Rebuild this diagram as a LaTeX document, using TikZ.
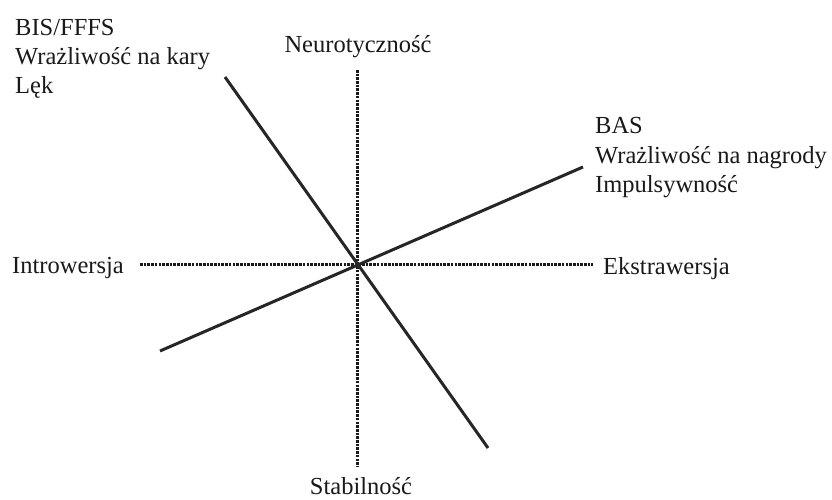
\documentclass[tikz,border=0pt]{standalone}
\usepackage{fontspec}
\setmainfont{Liberation Serif}
\begin{document}
\begin{tikzpicture}[x=1pt,y=1pt,
  lbl/.style={inner sep=0pt,font=\fontsize{24.5}{29}\selectfont,text=black!90},
  axis/.style={line width=3pt,dash pattern=on 2.6pt off 1.1pt,black!90},
  trait/.style={line width=3pt,black!85}]
\useasboundingbox[fill=white] (0,0) rectangle (832,499);
% axis endpoints
\coordinate (nTop) at (357,429);
\coordinate (nBot) at (357,32);
\coordinate (iL) at (140,235);
\coordinate (eR) at (593,235);
\coordinate (bisA) at (225,422);
\coordinate (bisB) at (488,51);
\coordinate (basA) at (160,148);
\coordinate (basB) at (583,332);
\draw[axis] (nTop) -- (nBot);
\draw[axis] (iL) -- (eR);
\draw[trait] (bisA) -- (bisB);
\draw[trait] (basA) -- (basB);
% labels
\node[lbl,anchor=base west] (bis1) at (15,463) {BIS/FFFS};
\node[lbl,anchor=base west] (bis2) at (15,434) {Wrażliwość na kary};
\node[lbl,anchor=base west] (bis3) at (15,405) {Lęk};
\node[lbl,anchor=base west] (bas1) at (595,365) {BAS};
\node[lbl,anchor=base west] (bas2) at (595,336) {Wrażliwość na nagrody};
\node[lbl,anchor=base west] (bas3) at (595,307) {Impulsywność};
\node[lbl,anchor=base] (neu) at (358,446) {Neurotyczność};
\node[lbl,anchor=base] (stab) at (361,5) {Stabilność};
\node[lbl,anchor=base west] (intro) at (12,226) {Introwersja};
\node[lbl,anchor=base west] (ekstra) at (603,225) {Ekstrawersja};
\end{tikzpicture}
\end{document}
